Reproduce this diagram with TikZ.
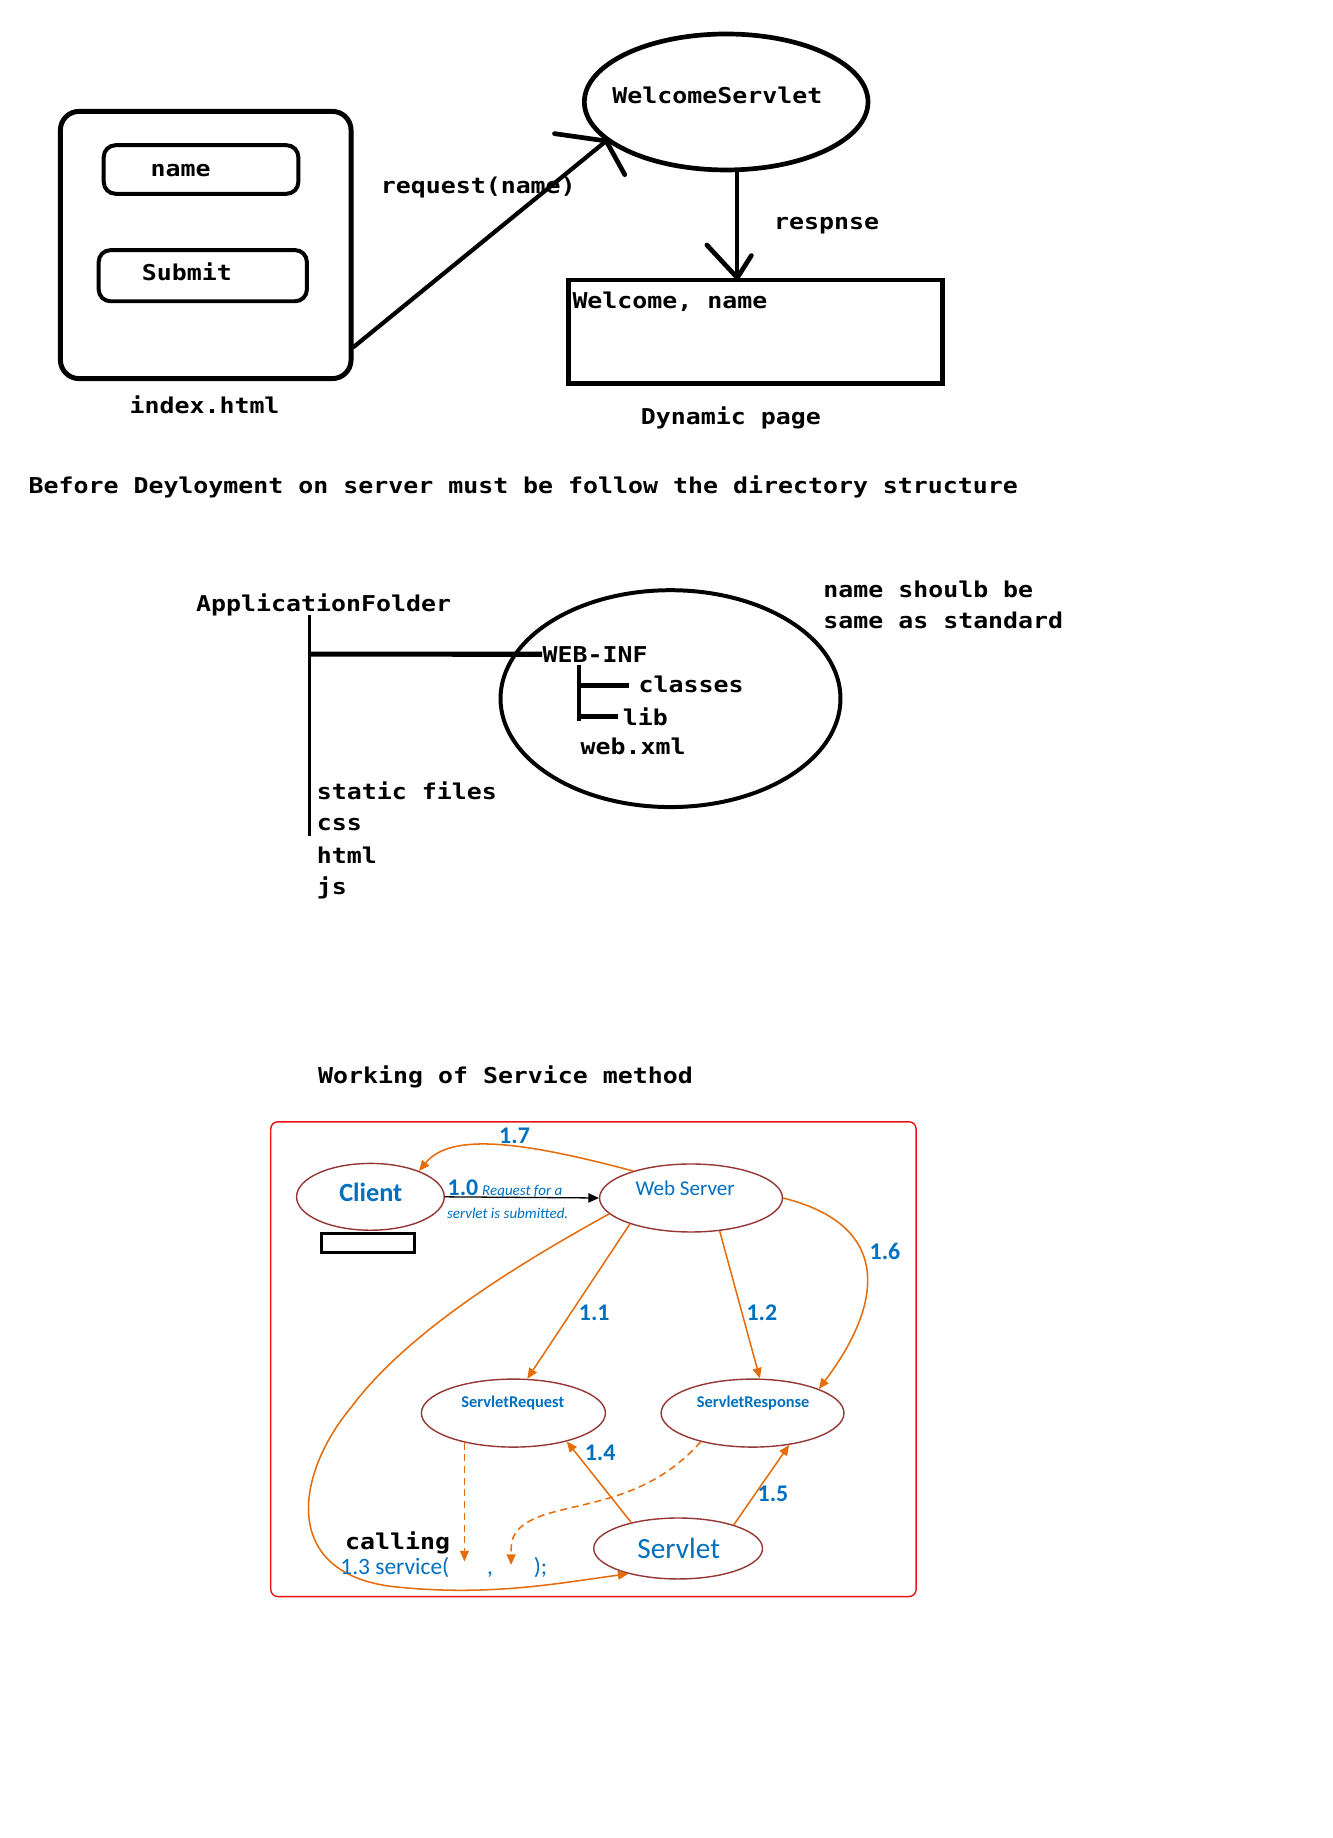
\documentclass[tikz,border=0pt]{standalone}
\usepackage{fontspec}
\setmainfont{Carlito}
\newfontfamily\codefont{DejaVu Sans Mono}[FakeStretch=1.142]
\usetikzlibrary{shapes.geometric,arrows.meta,calc}

\definecolor{flowblue}{RGB}{0,112,192}
\definecolor{floworange}{RGB}{228,108,10}
\definecolor{ovalrim}{RGB}{149,55,53}
\definecolor{framered}{RGB}{235,20,20}

\tikzset{
  code/.style={font=\codefont\bfseries\fontsize{9.3}{11}\selectfont, inner sep=0pt, anchor=base west},
  codemid/.style={code, anchor=base},
  heavy/.style={line width=2pt, line cap=round, line join=round},
  fieldbox/.style={draw, line width=1.7pt, rounded corners=5pt, inner sep=0pt},
  oval/.style={ellipse, draw=ovalrim, line width=0.6pt, inner sep=0pt},
  steplabel/.style={font=\bfseries\fontsize{10.2}{12}\selectfont, text=flowblue, inner sep=0pt, anchor=base west},
  flow/.style={draw=floworange, line width=0.65pt, -{Triangle[length=4.5pt,width=3.8pt]}},
  flowdash/.style={flow, dash pattern=on 3pt off 2pt},
  bluetext/.style={text=flowblue, inner sep=0pt, anchor=base},
}

\begin{document}
\begin{tikzpicture}[x=0.5pt,y=-0.5pt]
\fill[white] (0,0) rectangle (1137,1568);
\useasboundingbox (0,0) rectangle (1137,1568);

% ---------- request / response sketch ----------
\node[draw, line width=2.1pt, rounded corners=8pt, minimum width=124pt, minimum height=114pt, inner sep=0pt] (form) at (175.5,209) {};
\node[fieldbox, minimum width=83pt, minimum height=20.7pt] (namefield) at (171.5,144.6) {};
\node[fieldbox, minimum width=88.8pt, minimum height=21.8pt] (submitbtn) at (173,235.2) {};
\node[codemid] (nametext) at (154,150.5) {name};
\node[codemid] (submittext) at (159.5,239.7) {Submit};
\node[codemid] (formcap) at (174.5,352.5) {index.html};

\node[draw, ellipse, line width=2pt, inner sep=0pt, minimum width=121pt, minimum height=58pt] (servletoval) at (619.5,87) {};
\node[codemid] (servletname) at (612,88) {WelcomeServlet};

\coordinate (reqfrom) at ($(form.south east)!0.125!(form.north east)$);
\coordinate (reqarmA) at (473,114);
\coordinate (reqarmB) at (533,149);
\draw[heavy, line width=1.8pt] (reqfrom) -- (servletoval.198);
\draw[heavy] (reqarmA) -- (servletoval.198) -- (reqarmB);
\node[code] (reqlabel) at (324.5,164.9) {request(name)};

\node[draw, line width=1.85pt, inner sep=0pt, minimum width=159.6pt, minimum height=44.2pt] (pagebox) at (644.5,283) {};
\coordinate (resptip) at (servletoval.279 |- pagebox.north);
\coordinate (resparmA) at (603,209);
\coordinate (resparmB) at (641,218);
\draw[heavy, line width=1.7pt] (servletoval.279) -- (resptip);
\draw[heavy] (resparmA) -- (resptip) -- (resparmB);
\node[code] (resplabel) at (660,196.2) {respnse};
\node[code] (greeting) at (488,263) {Welcome, name};
\node[codemid] (pagecap) at (623.5,362.5) {Dynamic page};

% ---------- directory structure ----------
\node[code] (rule) at (24,420.8) {Before Deyloyment on server must be follow the directory structure};
\node[code] (appfolder) at (167,521.7) {ApplicationFolder};
\coordinate (trunktop) at (264,525);
\coordinate (trunkbot) at (264,713);
\draw[line width=1.5pt] (trunktop) -- (trunkbot);

\node[draw, ellipse, line width=1.7pt, inner sep=0pt, minimum width=145pt, minimum height=92.5pt] (stdoval) at (572,596) {};
\node[code] (webinf) at (462.5,564.9) {WEB-INF};
\coordinate (branch) at (264,558);
\draw[line width=2.2pt] (branch) -- (webinf.west);

\coordinate (subtop) at (494,567);
\coordinate (subbot) at (494,615.5);
\coordinate (clsA) at (494,585);
\coordinate (clsB) at (537,585);
\coordinate (libA) at (494,611);
\coordinate (libB) at (527,611);
\draw[line width=1.5pt] (subtop) -- (subbot);
\draw[line width=2.2pt] (clsA) -- (clsB);
\draw[line width=2.2pt] (libA) -- (libB);
\node[code] (classes) at (544.5,590.5) {classes};
\node[code] (lib) at (531,619.2) {lib};
\node[code] (webxml) at (495,644) {web.xml};

\node[code] (noteA) at (702,509.5) {name shoulb be};
\node[code] (noteB) at (702,536.5) {same as standard};

\node[code] (static) at (270,681.8) {static files};
\node[code] (css) at (270,708.8) {css};
\node[code] (html) at (270,736.4) {html};
\node[code] (js) at (270,763.4) {js};

% ---------- service method flow ----------
\node[code] (flowtitle) at (271,924.5) {Working of Service method};
\draw[draw=framered, line width=0.6pt, rounded corners=3pt] (231,957) rectangle (781.5,1362);

\node[oval, minimum width=63pt, minimum height=28.5pt] (client) at (316,1021) {};
\node[oval, minimum width=78pt, minimum height=29pt] (web) at (589.5,1022) {};
\node[oval, minimum width=78.5pt, minimum height=29pt] (req) at (438,1205.5) {};
\node[oval, minimum width=78pt, minimum height=29pt] (resp) at (642,1205.5) {};
\node[oval, minimum width=72pt, minimum height=26pt] (servlet) at (578.5,1321) {};

\node[bluetext, font=\bfseries\fontsize{11.2}{13}\selectfont] (clienttext) at (316.3,1025) {Client};
\node[bluetext, font=\fontsize{9}{11}\selectfont] (webtext) at (584.5,1020.1) {Web Server};
\node[bluetext, font=\bfseries\fontsize{7}{9}\selectfont] (reqtext) at (437.5,1200.4) {ServletRequest};
\node[bluetext, font=\bfseries\fontsize{7}{9}\selectfont] (resptext) at (642.5,1200.4) {ServletResponse};
\node[bluetext, font=\fontsize{12.5}{15}\selectfont] (servlettext) at (579,1329.8) {Servlet};

\node[draw, line width=1.4pt, inner sep=0pt, minimum width=39.5pt, minimum height=8.1pt] (blankbox) at (313.9,1060.5) {};

\draw[line width=0.55pt, -{Triangle[length=4.5pt,width=4pt]}] (client.east) -- (web.west);
\node[steplabel] (s10) at (381.5,1020) {1.0};
\node[bluetext, anchor=base west, font=\itshape\fontsize{6.4}{8}\selectfont] (s10a) at (411,1020) {Request for a};
\node[bluetext, anchor=base west, font=\itshape\fontsize{6.4}{8}\selectfont] (s10b) at (381,1039.7) {servlet is submitted.};

\draw[flow] (web.155) .. controls (450,975) and (385,965) .. (client.28);
\draw[flow] (web.203) -- (req.68);
\draw[flow] (web.311) -- (resp.78);
\draw[flow] (web.east) .. controls (760,1045) and (755,1110) .. (resp.20);
\draw[flow] (servlet.151) -- (req.332);
\draw[flow] (servlet.23) -- (resp.319);
\draw[flow] (web.191) .. controls (430,1085) and (345,1140) .. (300,1200)
   .. controls (250,1260) and (240,1345) .. (340,1354)
   .. controls (420,1362) and (480,1350) .. (servlet.207);

\coordinate (reqdrop) at (395,1332);
\coordinate (respdrop) at (436,1335);
\draw[flowdash] (req.211) -- (req.211 |- reqdrop);
\draw[flowdash] (resp.209) .. controls (555,1278) and (505,1280) .. (465,1292)
   .. controls (435,1302) and (436,1315) .. (respdrop);

\node[steplabel] (s17) at (425.5,975.8) {1.7};
\node[steplabel] (s11) at (493.5,1126.5) {1.1};
\node[steplabel] (s12) at (636.5,1126.5) {1.2};
\node[steplabel] (s16) at (741.5,1074.7) {1.6};
\node[steplabel] (s14) at (498.5,1246.2) {1.4};
\node[steplabel] (s15) at (646,1280.9) {1.5};

\node[code] (calling) at (294,1322.1) {calling};
\node[bluetext, anchor=base west, font=\fontsize{10}{12}\selectfont] (call) at (290,1343.4) {1.3 service(};
\node[bluetext, font=\fontsize{10}{12}\selectfont] (comma) at (418,1343.4) {,};
\node[bluetext, anchor=base west, font=\fontsize{10}{12}\selectfont] (close) at (455,1343.4) {);};
\end{tikzpicture}
\end{document}
